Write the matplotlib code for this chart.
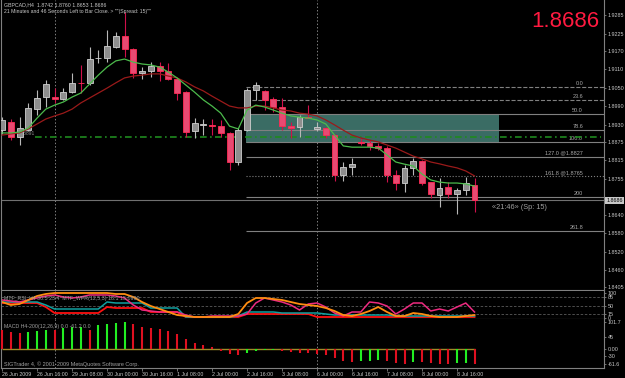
import numpy as np
import matplotlib.pyplot as plt
from matplotlib.patches import Rectangle
from matplotlib.transforms import blended_transform_factory

plt.rcParams['font.family'] = ['Liberation Sans', 'DejaVu Sans']

# GBPCAD H4 bars
opens = [1.8913, 1.8939, 1.8891, 1.8913, 1.8981, 1.9020, 1.9019, 1.9014, 1.9036, 1.9067,
         1.9065, 1.9145, 1.9146, 1.9182, 1.9218, 1.9175, 1.9099, 1.9104, 1.9120, 1.9104,
         1.9078, 1.9036, 1.8910, 1.8931, 1.8931, 1.8926, 1.8904, 1.8810, 1.8913, 1.9043,
         1.9040, 1.9014, 1.8988, 1.8926, 1.8923, 1.8957, 1.8918, 1.8920, 1.8897, 1.8768,
         1.8794, 1.8876, 1.8871, 1.8862, 1.8855, 1.8768, 1.8742, 1.8791, 1.8813, 1.8745,
         1.8703, 1.8729, 1.8706, 1.8719, 1.8736]
highs = [1.8955, 1.8949, 1.8955, 1.9001, 1.9043, 1.9075, 1.9049, 1.9049, 1.9098, 1.9124,
         1.9182, 1.9172, 1.9237, 1.9231, 1.9295, 1.9179, 1.9117, 1.9133, 1.9133, 1.9130,
         1.9082, 1.9040, 1.8952, 1.8949, 1.8949, 1.8946, 1.8907, 1.8920, 1.9049, 1.9069,
         1.9043, 1.9020, 1.9017, 1.8939, 1.8962, 1.8994, 1.8939, 1.8923, 1.8901, 1.8810,
         1.8823, 1.8888, 1.8881, 1.8871, 1.8862, 1.8784, 1.8800, 1.8823, 1.8816, 1.8745,
         1.8758, 1.8745, 1.8726, 1.8761, 1.8758]
lows = [1.8901, 1.8881, 1.8865, 1.8910, 1.8962, 1.8988, 1.9001, 1.9011, 1.9033, 1.9033,
        1.9059, 1.9130, 1.9133, 1.9179, 1.9150, 1.9082, 1.9078, 1.9085, 1.9072, 1.9075,
        1.9011, 1.8891, 1.8888, 1.8897, 1.8897, 1.8891, 1.8784, 1.8800, 1.8910, 1.9011,
        1.8978, 1.8972, 1.8913, 1.8888, 1.8891, 1.8952, 1.8910, 1.8888, 1.8748, 1.8748,
        1.8768, 1.8865, 1.8849, 1.8849, 1.8745, 1.8719, 1.8713, 1.8768, 1.8736, 1.8693,
        1.8664, 1.8693, 1.8642, 1.8703, 1.8648]
closes = [1.8946, 1.8891, 1.8920, 1.8985, 1.9017, 1.9062, 1.9015, 1.9036, 1.9065, 1.9064,
          1.9143, 1.9148, 1.9185, 1.9218, 1.9175, 1.9098, 1.9103, 1.9120, 1.9104, 1.9078,
          1.9033, 1.8907, 1.8936, 1.8934, 1.8928, 1.8904, 1.8810, 1.8913, 1.9043, 1.9059,
          1.9011, 1.8988, 1.8926, 1.8920, 1.8955, 1.8953, 1.8922, 1.8897, 1.8768, 1.8794,
          1.8803, 1.8873, 1.8862, 1.8855, 1.8768, 1.8742, 1.8791, 1.8813, 1.8742, 1.8706,
          1.8726, 1.8706, 1.8719, 1.8742, 1.8686]

ma_fast = [1.8904, 1.8904, 1.8907, 1.8920, 1.8952, 1.8981, 1.8994, 1.9004, 1.9020, 1.9033,
           1.9062, 1.9091, 1.9117, 1.9137, 1.9143, 1.9133, 1.9127, 1.9124, 1.9117, 1.9101,
           1.9082, 1.9059, 1.9036, 1.9011, 1.8991, 1.8968, 1.8926, 1.8917, 1.8978, 1.8994,
           1.8988, 1.8978, 1.8968, 1.8959, 1.8955, 1.8952, 1.8946, 1.8933, 1.8897, 1.8862,
           1.8858, 1.8858, 1.8858, 1.8855, 1.8833, 1.8810, 1.8803, 1.8797, 1.8771, 1.8752,
           1.8745, 1.8742, 1.8742, 1.8739, 1.8732]
ma_slow = [1.8897, 1.8901, 1.8904, 1.8917, 1.8933, 1.8949, 1.8959, 1.8968, 1.8981, 1.9001,
           1.9017, 1.9033, 1.9049, 1.9066, 1.9082, 1.9088, 1.9091, 1.9095, 1.9095, 1.9088,
           1.9082, 1.9069, 1.9053, 1.9040, 1.9023, 1.9007, 1.8991, 1.8985, 1.8985, 1.8991,
           1.8991, 1.8985, 1.8978, 1.8975, 1.8968, 1.8965, 1.8959, 1.8946, 1.8930, 1.8913,
           1.8897, 1.8888, 1.8881, 1.8875, 1.8865, 1.8855, 1.8842, 1.8829, 1.8820, 1.8810,
           1.8804, 1.8797, 1.8791, 1.8781, 1.8765]

# oscillator panel (0..100)
osc_orange = [64, 52, 56, 72, 88, 96, 100, 100, 100, 100, 100, 100, 100, 96, 96, 84, 64, 48, 36, 24,
              12, 8, 4, 4, 4, 4, 4, 16, 60, 80, 80, 76, 72, 64, 56, 52, 48, 40, 28, 12,
              8, 16, 28, 44, 24, 8, 8, 20, 16, 8, 4, 4, 4, 8, 12]
osc_magenta = [72, 68, 64, 72, 80, 88, 92, 84, 80, 84, 92, 92, 92, 88, 80, 52, 32, 28, 24, 24,
               24, 12, 4, 4, 8, 8, 8, 8, 16, 60, 80, 72, 64, 52, 32, 56, 60, 44, 20, 8,
               24, 24, 64, 60, 48, 16, 36, 60, 60, 28, 36, 28, 44, 60, 24]
osc_teal = [64, 64, 64, 64, 64, 52, 36, 36, 36, 36, 36, 36, 64, 60, 60, 60, 60, 40, 40, 40,
            40, 4, 4, 4, 4, 4, 4, 8, 24, 24, 24, 24, 20, 20, 20, 20, 20, 16, 12, 12,
            12, 12, 12, 12, 12, 8, 8, 8, 8, 8, 8, 8, 8, 8, 8]
osc_red = [60, 60, 60, 60, 60, 44, 20, 20, 20, 20, 20, 20, 44, 40, 40, 40, 40, 24, 24, 24,
           24, 4, 4, 4, 4, 4, 4, 4, 16, 16, 16, 16, 16, 16, 16, 16, 4, 4, 4, 4,
           4, 4, 4, 4, 4, 4, 4, 4, 4, 4, 4, 4, 4, 4, 4]

macd_hist = [74, 64, 61, 64, 68, 74, 72, 81, 82, 83, 74, 90, 96, 100, 101.7, 94, 85, 80, 77, 68,
             55, 38, 22, 13, 5, -8, -23, -27, -17, -10, -6, -5, -10, -13, -17, -18, -21, -26, -36, -47,
             -52, -49, -47, -43, -49, -56, -60, -53, -54, -57, -59, -61.6, -58, -55, -61.2]

date_labels = ['26 Jun 2009', '26 Jun 16:00', '29 Jun 08:00', '30 Jun 00:00', '30 Jun 16:00',
               '1 Jul 08:00', '2 Jul 00:00', '2 Jul 16:00', '3 Jul 08:00', '6 Jul 00:00',
               '6 Jul 16:00', '7 Jul 08:00', '8 Jul 00:00', '8 Jul 16:00']
week_starts = [6, 36]

price_ticks = [1.9285, 1.9225, 1.9170, 1.9110, 1.9050, 1.8990, 1.8930, 1.8875, 1.8815,
               1.8755, 1.8695, 1.8640, 1.8580, 1.8520, 1.8460, 1.8405]
fib_levels = [1.9053, 1.9011, 1.8964, 1.8913, 1.8875, 1.8827, 1.8765, 1.8697, 1.8587]
fib_names = ['0.0', '23.6', '50.0', '78.6', '100.0', '127.0 @1.8827', '161.8 @1.8765', '200', '261.8']
fib_start = 28
zone_top, zone_bottom, zone_end = 1.8964, 1.8871, 56.8
support_level = 1.8891
last_price = 1.8686

BG = 'black'
GRID = '#808080'
TXT = '#c8c8c8'
W, H = 625, 378
xlim = (-0.12, 68.8)


def panel(top, bottom):
    return fig.add_axes([1 / W, 1 - bottom / H, 603 / W, (bottom - top) / H])


fig = plt.figure(figsize=(W / 100, H / 100), dpi=100, facecolor=BG)
ax = panel(0, 290)
ax2 = panel(291, 319)
ax3 = panel(319, 368)

for a in (ax, ax2, ax3):
    a.set_facecolor(BG)
    a.set_xlim(*xlim)
    a.yaxis.tick_right()
    a.tick_params(axis='y', colors=GRID, labelcolor=TXT, labelsize=3.9, length=1.5, pad=1, width=0.6)
    for s in a.spines.values():
        s.set_color(GRID)
        s.set_linewidth(0.8)
    a.spines['top'].set_visible(False)
    for w in week_starts:
        a.axvline(w, color=GRID, lw=0.7, ls=(0, (1.5, 2)), zorder=1)

x = np.arange(len(opens))
o, h, l, c = map(np.array, (opens, highs, lows, closes))
up = c > o

# --- main price panel ---
ax.set_ylim(1.8396, 1.9334)
ax.set_xticks([])
ax.set_yticks(price_ticks)
# the price box hides the tick label under the last price
ax.set_yticklabels(['' if abs(v - last_price) < 0.001 else f'{v:.4f}' for v in price_ticks])

ax.add_patch(Rectangle((fib_start - 0.1, zone_bottom), zone_end - fib_start + 0.1, zone_top - zone_bottom,
                       facecolor='#3a6c64', edgecolor='none', zorder=1))
styles = ['--', '--', '-', '-', '-', '-', ':', '-', '-']
for lev, name, st in zip(fib_levels, fib_names, styles):
    ax.hlines(lev, fib_start - 0.1, xlim[1], color=GRID, lw=0.8, ls=st, zorder=2)
    ax.text(66.4, lev + 0.0003, name, ha='right', va='bottom', fontsize=4.0, color='#a8a8a8', zorder=2)

ax.axhline(last_price, color='#707070', lw=0.8, zorder=2)
ax.hlines(support_level, 3.8, xlim[1] - 0.4, color='#1f8a1f', lw=1.2, ls=(0, (4, 2, 1, 2)), zorder=2)
ax.text(2.0, support_level + 0.0002, f'{support_level:.4f}', fontsize=3.6, color='#909090', va='bottom')

ax.vlines(x[up], l[up], h[up], color='#b8b8b8', lw=0.8, zorder=3)
ax.vlines(x[~up], l[~up], h[~up], color='#d0104a', lw=0.8, zorder=3)
body = np.maximum(np.abs(c - o), 0.00025)
bottoms = np.minimum(o, c)
ax.bar(x[up], body[up], bottom=bottoms[up], width=0.68, color='#8e8e8e', edgecolor='#d0d0d0', lw=0.6, zorder=4)
ax.bar(x[~up], body[~up], bottom=bottoms[~up], width=0.68, color='#e84a72', edgecolor='#ff2a55', lw=0.6, zorder=4)

ax.plot(x, ma_slow, color='#9a1a1a', lw=0.9, zorder=5)
ax.plot(x, ma_fast, color='#4cbb4c', lw=0.9, zorder=5)

ax.text(56.0, 1.8664, '\u00ab21:46\u00bb (Sp: 15)', fontsize=5.3, color='#a0a0a0', va='center', ha='left')

tr = blended_transform_factory(ax.transAxes, ax.transData)
ax.text(1.004, last_price, f'{last_price:.4f}', transform=tr, fontsize=3.9, color='black', va='center', ha='left',
        bbox=dict(facecolor='#c8c8c8', edgecolor='none', pad=0.8), zorder=10, clip_on=False)

fig.text(4 / W, 1 - 5 / H, 'GBPCAD,H4  1.8742 1.8760 1.8653 1.8686', fontsize=3.8, color=TXT, va='center')
fig.text(4 / W, 1 - 12 / H, '21 Minutes and 46 Seconds Left to Bar Close. > ""(Spread: 15)""',
         fontsize=3.7, color=TXT, va='center')
fig.text(599 / W, 1 - 27 / H, f'{last_price:.4f}', fontsize=16, color='#ff1a40', ha='right', va='baseline')

# --- oscillator panel ---
ax2.set_ylim(-4, 108)
ax2.set_xticks([])
ax2.set_yticks([0, 15, 50, 85, 100])
ax2.set_yticklabels(['0', '15', '50', '85', '100'])
for lev in (85, 50, 15):
    ax2.axhline(lev, color='#5a5a5a', lw=0.6, ls=(0, (3, 2)))
ax2.plot(x, osc_red, color='#ff1010', lw=1.3)
ax2.plot(x, osc_teal, color='#10a0a0', lw=1.1)
ax2.plot(x, osc_magenta, color='#ee2a80', lw=1.1)
ax2.plot(x, osc_orange, color='#ff8c10', lw=1.3)
ax2.text(0.005, 0.72, 'MTF_RSI_H4 30.5 23.4  MTF_WPR(12,5,3) 18.1 15.0990', transform=ax2.transAxes,
         fontsize=3.8, color='#a0a0a0', va='center')

# --- MACD panel ---
hist = np.array(macd_hist)
rising = np.r_[False, hist[1:] > hist[:-1]]
ax3.set_ylim(-76, 115)
ax3.set_yticks([101.7, 45, 0, -30, -61.6])
ax3.set_yticklabels(['101.7', '45', '0.00', '-30', '-61.6'])
ax3.hlines(0, x[0], x[-1], color='#a08a28', lw=1.0, zorder=2)
ax3.vlines(x[rising], 0, hist[rising], color='#22ee22', lw=1.5, zorder=3)
ax3.vlines(x[~rising], 0, hist[~rising], color='#e01020', lw=1.5, zorder=3)
ax3.text(0.005, 0.85, 'MACD H4-200(12,26,9) 0.0 -61.2 0.0', transform=ax3.transAxes,
         fontsize=3.8, color='#a0a0a0', va='center')
ax3.text(0.005, 0.08, 'SIGTrader 4, \u00a9 2001-2009 MetaQuotes Software Corp.', transform=ax3.transAxes,
         fontsize=4.0, color='#a0a0a0', va='center')
ax3.set_xticks(np.arange(len(date_labels)) * 4)
ax3.set_xticklabels(date_labels, ha='left')
ax3.tick_params(axis='x', colors=GRID, labelcolor=TXT, labelsize=3.8, length=2, pad=1, width=0.6)

fig.savefig('out.png', dpi=100, facecolor=BG)
